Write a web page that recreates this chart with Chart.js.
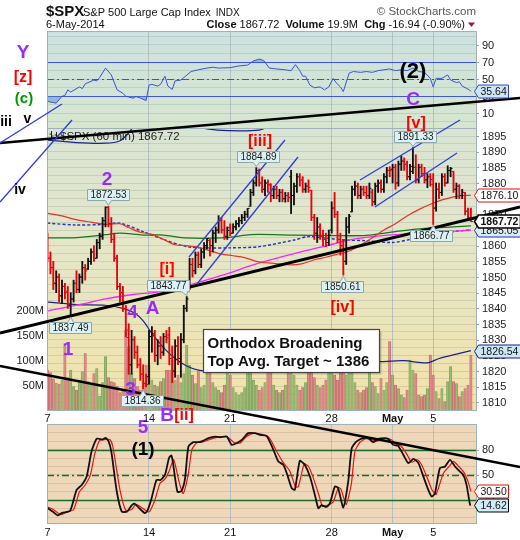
<!DOCTYPE html>
<html>
<head>
<meta charset="utf-8">
<title>$SPX 60 min</title>
<script src="https://cdn.jsdelivr.net/npm/chart.js@4.4.1/dist/chart.umd.min.js"></script>
<style>
html, body { margin: 0; padding: 0; background: #fff; }
canvas { display: block; }
</style>
</head>
<body>
<canvas id="spx" width="520" height="540"></canvas>
<script>
const FONT = 'Arial, "Liberation Sans", Helvetica, sans-serif';

// ---------------- data ----------------
// one slot per hourly bar, 7 bars per session, 7-Apr-2014 .. 6-May-2014
const weekIdx = [0, 35, 63, 98, 119, 133];
const weekLabels = ['7', '14', '21', '28', 'May', '5'];

const opens = [
  1863.9,1856,1853,1848,1850,1844,1847,
  1845.5,1841,1843,1848,1846,1850,1853,
  1852.6,1855,1858,1856,1861,1863,1868,
  1872.3,1867,1862,1856,1847,1845,1840,
  1830.7,1822,1830,1826,1822,1819,1816,
  1818.2,1831,1832,1825,1828,1826,1831,
  1831.5,1824,1820,1828,1824,1830,1840,
  1846,1854,1852,1857,1854,1858,1860,
  1861.7,1860,1864,1865,1868,1865,1863,
  1865.8,1864,1866,1867,1868,1869,1870,
  1872.6,1877,1880,1884,1880,1878,1880,
  1879.3,1876,1878,1876,1877,1875,1876,
  1882,1876,1879,1882,1881,1878,1879,
  1877.7,1869,1864,1866,1863,1862,1861,
  1865,1872,1870,1862,1860,1855,1866,
  1870.8,1878,1879,1876,1878,1877,1876,
  1877.1,1874,1879,1880,1878,1882,1884,
  1884.4,1885,1880,1886,1887,1886,1882,
  1885.3,1885,1881,1885,1883,1881,1882,
  1879.5,1872,1878,1877,1882,1880,1884,
  1883.7,1878,1879,1876,1877,1871,1869
];
const highs = [
  1864.0,1858,1855,1852,1851,1849,1848,
  1847,1845,1849,1852,1851,1855,1854,
  1856,1859,1860,1862,1864,1869,1872.4,
  1872.53,1869,1864,1857,1848,1847,1841,
  1835.1,1833,1831,1828,1824,1822,1819,
  1833,1834.2,1833,1830,1831,1832,1833,
  1834,1828,1830,1831,1832,1841,1843.77,
  1856,1856,1858,1858,1859,1861,1862.3,
  1862,1865,1866,1869.6,1869,1868,1866,
  1867,1867,1868,1869,1870,1871,1871.9,
  1878,1881,1884.89,1884.5,1882,1881,1881,
  1879.8,1879,1879,1878,1878,1877,1877,
  1884.06,1880,1883,1883,1882,1880,1881,
  1877.7,1870,1869,1867,1865,1864,1865,
  1874,1877,1871,1864,1862,1869,1870,
  1879,1880.6,1880,1879,1879,1879,1880,
  1878,1880,1881,1881,1883,1885,1885.2,
  1886,1886,1887,1888.6,1888,1887,1886,
  1891.33,1889,1886,1886,1885,1883,1883,
  1883,1880,1880,1883,1883,1885.5,1885,
  1883.7,1880,1879.5,1878,1877,1872,1872
];
const lows = [
  1855,1851,1846,1845,1842,1841.5,1843,
  1840,1837.49,1842,1845,1845,1848,1849,
  1852.4,1854,1855,1856,1859,1862,1866,
  1866,1861,1855,1846,1842,1839,1830.9,
  1819,1819,1824,1821,1817,1814.36,1815,
  1815.8,1826,1823,1822,1824,1825,1829,
  1822,1816.3,1818,1822,1818,1829,1839,
  1846,1850,1851,1853,1853,1856,1859,
  1856.7,1858,1861,1864,1864,1862,1862,
  1863.2,1864,1865,1866,1867,1868,1869,
  1872.6,1876,1879,1879,1877,1876,1877,
  1874,1875,1875,1874,1874,1873.9,1874,
  1870.24,1873,1877,1879,1877,1877,1877,
  1868,1862,1861,1862,1860,1859.7,1860,
  1864,1869,1861,1857,1850.61,1854,1864,
  1870.8,1876,1875,1875,1876,1875,1875,
  1872.7,1873,1877,1877,1877,1880,1882,
  1880,1878,1879,1884,1884,1881,1881,
  1883,1880,1880,1882,1880,1878.5,1879,
  1866.77,1871,1875,1876,1879,1880,1882,
  1877,1875,1875,1875,1869.8,1868.5,1867.72
];
const closes = [
  1856,1853,1848,1850,1844,1847,1845.0,
  1841,1843,1848,1846,1850,1853,1852,
  1855,1858,1856,1861,1863,1868,1872.2,
  1867,1862,1856,1847,1845,1840,1833.1,
  1822,1830,1826,1822,1819,1816,1815.7,
  1831,1832,1825,1828,1826,1831,1830.6,
  1824,1820,1828,1824,1830,1840,1843,
  1854,1852,1857,1854,1858,1860,1862.3,
  1860,1864,1865,1868,1865,1863,1864.9,
  1864,1866,1867,1868,1869,1870,1871.9,
  1877,1880,1884,1880,1878,1880,1879.6,
  1876,1878,1876,1877,1875,1876,1875.4,
  1876,1879,1882,1881,1878,1879,1878.6,
  1869,1864,1866,1863,1862,1861,1863.4,
  1872,1870,1862,1860,1855,1866,1869.4,
  1878,1879,1876,1878,1877,1876,1878.3,
  1874,1879,1880,1878,1882,1884,1883.95,
  1885,1880,1886,1887,1886,1882,1883.7,
  1885,1881,1885,1883,1881,1882,1881.1,
  1872,1878,1877,1882,1880,1884,1884.66,
  1878,1879,1876,1877,1871,1869,1867.72
];
// volume per bar, millions of shares
const volumes = [
  80,75,62,54,52,60,133,
  65,80,47,40,60,77,113,
  57,53,73,83,28,55,107,
  65,57,55,48,35,40,160,
  127,73,63,47,40,57,90,
  90,60,50,47,57,63,80,
  80,100,60,70,55,73,130,
  90,70,53,77,45,50,95,
  85,55,45,40,35,50,90,
  70,45,35,30,35,45,80,
  90,60,50,40,45,55,100,
  80,50,40,35,40,50,85,
  110,70,50,40,45,55,95,
  90,65,50,45,50,60,110,
  100,70,60,75,85,70,120,
  85,55,40,35,40,45,77,
  55,47,33,63,40,55,137,
  70,50,43,30,25,40,100,
  80,73,30,27,30,43,110,
  70,37,23,43,17,57,87,
  57,53,27,37,43,50,110
];

// price overlays, sampled at bar slots
const redMaIdx = [0,5,10,15,20,25,28,32,36,40,44,48,52,56,60,64,68,72,76,80,84,88,92,96,100,104,108,112,116,120,124,128,132,136,140,143,146];
const redMaVal = [1870.3,1869.5,1868.3,1867.5,1866.8,1867,1865.8,1864.3,1863.6,1862,1860.3,1860,1859.5,1858.4,1857.3,1856.8,1856.2,1855,1854.5,1854.2,1853.9,1854.3,1855.5,1856.3,1857.3,1858.3,1860.2,1862.5,1865,1867,1869.5,1871.5,1873.2,1874.6,1875.6,1876,1876.10];
const greenMaIdx = [0,10,20,25,33,40,47,60,70,73,85,100,110,120,130,140,146];
const greenMaVal = [1862.5,1862.6,1863.5,1864,1863.4,1863.4,1862.5,1862.5,1863.5,1863.6,1863.4,1863.2,1863.3,1864.5,1865.5,1866,1866.3];
const dotMaIdx = [0,10,20,25,33,40,48,55,63,73,85,90,97,103,110,119,125,130,136,141,146];
const dotMaVal = [1867.2,1866.6,1866.8,1867.2,1864.5,1862,1859.7,1859.3,1859.3,1859.7,1861.8,1862.9,1862.3,1861.8,1861.6,1861,1862,1863,1864,1864.6,1865.05];
const magMaIdx = [0,10,20,30,38,49,60,73,85,95,105,112,120,130,140,146];
const magMaVal = [1839.2,1841,1843,1844.5,1845.2,1847.5,1850.5,1854.5,1857.5,1859.7,1862,1862.9,1863.5,1864,1864.6,1865];
const bandLoIdx = [0,10,20,26,30,33,36,40,44,48,52,57,65,80,95,105,115,123,131,135,141,146];
const bandLoVal = [1842,1841.2,1841,1840,1838.5,1836,1832,1827.5,1824,1821.6,1820.3,1820,1820.3,1821,1821.8,1822.5,1823,1823.3,1822.6,1824,1825.4,1826.54];
const bandHiIdx = [0,10,20,25,28,31,40,50,53,55,62,73,77,82,100,120,146];
const bandHiVal = [1893.7,1892.9,1892.7,1893.5,1896,1899.5,1904,1901,1898,1897.3,1896.7,1896.9,1898.5,1902,1906,1908,1915];

// RSI(14)
const rsiIdx = [0,3,5,6,7,8,11,12,13,16,17,18,20,22,24,26,27,29.6,30.5,32,34,35,36,38,39,40.5,41.5,43,44,46,49.5,52,55,57,59,63,66,69,71,73,74.5,76.5,79,82,84,85.5,87,88,89,90.5,92,94,95.5,97,98.5,99.5,101,102,104,105.5,108,110,112,114,116,118,120,122,124,126,128,130,132,133,134,136,138,139,141,142,143,145.5,146];
const rsiVal = [24,22,30,31,37.5,35,41,39,44.5,49,48,52,63,55,37.5,33.6,30,27.8,29.7,28,25,43,44,42,44,53.5,42,38,48,49,59,61,63,64,63,63.5,65.5,66.5,71.4,73.5,72,63,62,61,60,67,60,53.5,53.5,43,40,41,37.5,41,51,46,41,35.5,57,59,58,59,58,60,61,62,60,61,60,63,59,58,51,41,51,51,55,49,46,47,42,37.5,35.64];
const rsiLevels = [70, 50, 30];
const rsiLabels = [10, 30, 50, 70, 90];

// slow stochastic %K / %D
const stoKIdx = [0,2,3.5,5,7.8,10,11.8,13.5,15.2,17,19,20,21,22,23.9,25.6,27.5,29,30,31.5,33.6,34.5,35.9,37.6,39,40.5,41.9,42.7,43.2,44.8,46.2,47.4,48.6,50.3,52,53.7,55.5,57.8,59.5,61.8,63.5,65.2,67,69.2,71.5,73.3,75.6,77.9,79.6,81.3,82.5,84.2,85.3,87,88.7,90.5,92.2,93.4,94.5,96.2,97.4,99.1,100.2,102,103.7,104.9,106.6,108.9,110.6,112.3,114,116.3,117.5,119.2,120.9,122.7,124.4,126.2,127.9,129.6,131.3,132.5,133.6,135.3,137.1,138.8,140.5,142.2,143.4,144.5,145.7,146];
const stoKVal = [10.6,6,2,5,7.4,32,38,48,78,93,92,94,90.4,78,30,6.6,6.6,13.8,16,11,4.6,8,22.4,44,44,50,70,73,66,30,31,45,83.7,88.8,88.8,90.4,93.6,95.5,94.5,95.5,85.7,87.6,91.5,99.5,99.5,97.5,96,79.7,66,62,52,34.3,32.3,66.7,62,48,26.3,10.5,14,12,16.5,36.3,34.5,11.4,42.2,81.7,89.7,93.6,93.6,88.8,92.6,93.6,92.6,85.6,84.5,73.8,64,69,64,48.2,32.3,24.4,28,58,60,67.9,60,54,50,38.2,14.5,14.62];
const stoDIdx = [0,2,4.5,6,9,11,13,14.8,16.3,18,20,21.5,22.5,25,27,29,30.5,33,35,37,38.8,40.5,42,43.5,45.5,46.8,48.5,49.8,51.5,53.5,56,59,62,64.5,66.5,68.5,70.5,74,76.5,79,81,83.5,85.5,86.5,88.5,90,91.5,93.5,94.8,96.5,98.5,100.3,101.2,103,104.8,106,107.8,110,113.5,116,118.5,120.5,122,124,125.5,127.5,129,131,132.6,134,136.5,138.5,140,141.8,143.6,145,146];
const stoDVal = [12,9,3,5,9,30,38,50,75,91,92,92,84,32,8,9,15,10,6,20,40,45,55,68,40,28,50,80,88,89,92,95,95,88,88,95,99,98,94,78,66,55,36,36,63,60,48,27,13,14,18,35,33,15,40,78,89,93,90,93,92,86,84,74,65,68,62,46,32,27,52,60,66,60,53,42,30.5];
const stoLevels = [80, 50, 20];

const volLabels = [50, 100, 150, 200];

// high/low call-outs: bar slot, which extreme, horizontal nudge of the box (px)
const calloutIdx = [21, 8, 33, 48, 72, 102, 126, 133];
const calloutKind = ['high', 'low', 'low', 'high', 'high', 'low', 'high', 'low'];
const calloutShift = [0, -1, -1, -19, 2, -1, 2, -2];

// trend and channel lines: [slot1, price1, slot2, price2, colour, width]
const trendLines = [
  [-16.38, 1892.77, 162.93, 1907.12, '#000', 2.4],
  [-16.38, 1832.14, 162.93, 1872.35, '#000', 3],
  [-16.38, 1821.61, 162.93, 1789.38, '#000', 2.4],
  [48.79, 1856.39, 81.9, 1893.72, '#2b3de0', 1.3],
  [51.55, 1847.78, 86.38, 1888.30, '#2b3de0', 1.3],
  [107.76, 1880.96, 142.24, 1900.11, '#2b3de0', 1.3],
  [112.93, 1872.35, 141.21, 1889.58, '#2b3de0', 1.3],
  [-16.38, 1873.94, 8.45, 1900.1, '#2b3de0', 1.3],
  [-16.38, 1892.77, 5.0, 1905.21, '#2b3de0', 1.3]
];

// wave count labels (slot, price on the price axis)
const waveText  = ['Y','[z]','(c)','iii','v','iv','(2)','C','2','[iii]','[v]','[i]','[iv]','1','4','A','3','B','[ii]','5','(1)'];
const waveIdx   = [-8.45,-8.45,-8.1,-14.31,-6.9,-9.48,126.03,126.03,20.52,73.28,127.07,41.21,101.72,7.07,29.31,36.21,28.62,41.21,47.07,32.93,32.93];
const wavePrice = [1921.48,1913.67,1906.81,1899.31,1900.42,1877.77,1915.42,1906.49,1881.12,1893.09,1898.99,1852.24,1840.28,1826.72,1838.52,1839.8,1813.95,1805.66,1805.66,1801.83,1794.81];
const waveColor = ['#9a2bff','#ff0000','#009a00','#000','#000','#000','#000','#9a2bff','#9a2bff','#ff0000','#ff0000','#ff0000','#ff0000','#9a2bff','#9a2bff','#9a2bff','#9a2bff','#9a2bff','#ff0000','#9a2bff','#000'];
const waveSize  = [19,16,15,14,14,14,22,19,19,16,16,16,16,19,19,19,19,19,16,19,19];

const noteLines = ['Orthodox Broadening', 'Top Avg. Target ~ 1386'];
const noteAnchor = [53.62, 1833.26];   // slot, price of the note's top-left corner

const header = { symbol: '$SPX', name: 'S&P 500 Large Cap Index', exch: 'INDX', date: '6-May-2014', volume: '19.9M', credit: '\u00a9 StockCharts.com' };

// ---------------- layout ----------------
const CW = 520, CH = 540;
const PLOT = { left: 47, right: 476, top: 31, bottom: 524 };
const PANEL = { rsiBottom: 128, mainBottom: 410, stochTop: 424 };
const BAR0 = 47.5, BARSTEP = 2.9;

function rangeFor(v1, y1, v2, y2) {
  const k = (v2 - v1) / (y2 - y1);
  return { min: v1 + (PLOT.bottom - y1) * k, max: v1 + (PLOT.top - y1) * k };
}
const priceRange = rangeFor(1895, 136, 1845, 292.7);
const rsiRange = rangeFor(90, 45, 10, 113.4);
const stoRange = rangeFor(80, 449.6, 20, 500.2);
const volRange = rangeFor(0, 410, 200, 310);

const clipMain = { left: 0, right: 0, top: -(PANEL.rsiBottom - PLOT.top), bottom: -(PLOT.bottom - PANEL.mainBottom) };
const clipRsi = { left: 0, right: 0, top: 0, bottom: -(PLOT.bottom - PANEL.rsiBottom) };
const clipSto = { left: 0, right: 0, top: -(PANEL.stochTop - PLOT.top), bottom: 0 };

const priceTicks = [];
for (let v = 1807.5; v <= 1897.5; v += 2.5) priceTicks.push(v);
const tenTicks = [];
for (let v = 0; v <= 100; v += 10) tenTicks.push(v);
const priceLabel = v => (v % 5 === 0 && v >= 1810 && v <= 1895) ? String(v) : '';

const isUp = closes.map((c, i) => i === 0 ? c >= opens[0] : c >= closes[i - 1]);
const barColors = isUp.map(u => u ? '#111111' : '#e8000b');
const volFill = isUp.map(u => u ? 'rgba(150,185,110,0.85)' : 'rgba(222,135,135,0.85)');
const volEdge = isUp.map(u => u ? '#7f9f5c' : '#c06a6a');

const pts = (idx, val) => idx.map((x, k) => ({ x, y: val[k] }));
const last = a => a[a.length - 1];

function lineSet(idx, val, color, width, axis, clip, order, extra) {
  return Object.assign({
    type: 'line', data: pts(idx, val), yAxisID: axis, borderColor: color, borderWidth: width,
    pointRadius: 0, tension: 0.3, fill: false, clip, order
  }, extra || {});
}

// ---------------- drawing helpers ----------------
function hline(ctx, x1, x2, y, color, width, dash) {
  ctx.save();
  ctx.strokeStyle = color; ctx.lineWidth = width; ctx.setLineDash(dash || []);
  const yy = Math.round(y) + 0.5;
  ctx.beginPath(); ctx.moveTo(x1, yy); ctx.lineTo(x2, yy); ctx.stroke();
  ctx.restore();
}

// value tag on the right edge: small arrow pointing at the panel, text box behind it
function tag(ctx, x, y, text, fill, stroke, lw, bold) {
  ctx.save();
  ctx.font = (bold ? 'bold ' : '') + '10.5px ' + FONT;
  const w = Math.round(ctx.measureText(text).width) + 4;
  const h = 13, tip = x - 2, x0 = x + 2, yy = Math.round(y) + 0.5;
  ctx.beginPath();
  ctx.moveTo(tip + 0.5, yy);
  ctx.lineTo(x0 + 0.5, yy - h / 2);
  ctx.lineTo(x0 + w + 0.5, yy - h / 2);
  ctx.lineTo(x0 + w + 0.5, yy + h / 2);
  ctx.lineTo(x0 + 0.5, yy + h / 2);
  ctx.closePath();
  ctx.fillStyle = fill; ctx.fill();
  ctx.strokeStyle = stroke; ctx.lineWidth = lw; ctx.stroke();
  ctx.fillStyle = '#111'; ctx.textAlign = 'left'; ctx.textBaseline = 'middle';
  ctx.fillText(text, x0 + 2.5, yy + 0.5);
  ctx.restore();
}

function callout(ctx, ax, ay, text, above, shift) {
  ctx.save();
  ctx.font = '10px ' + FONT;
  const w = Math.round(ctx.measureText(text).width) + 6, h = 11;
  const left = Math.round(ax + shift - w / 2) + 0.5;
  const top = Math.round(above ? ay - 6 - h : ay + 6) + 0.5;
  const tipY = above ? ay - 1 : ay + 1;
  const pxm = Math.min(Math.max(ax, left + 5), left + w - 5);
  ctx.beginPath();
  ctx.moveTo(left, top);
  if (!above) { ctx.lineTo(pxm - 3, top); ctx.lineTo(ax, tipY); ctx.lineTo(pxm + 3, top); }
  ctx.lineTo(left + w, top);
  ctx.lineTo(left + w, top + h);
  if (above) { ctx.lineTo(pxm + 3, top + h); ctx.lineTo(ax, tipY); ctx.lineTo(pxm - 3, top + h); }
  ctx.lineTo(left, top + h);
  ctx.closePath();
  ctx.fillStyle = '#dcf1f3'; ctx.fill();
  ctx.strokeStyle = '#8ea6aa'; ctx.lineWidth = 1; ctx.stroke();
  ctx.fillStyle = '#1a1a1a'; ctx.textAlign = 'center'; ctx.textBaseline = 'middle';
  ctx.fillText(text, left + w / 2, top + h / 2 + 0.5);
  ctx.restore();
}

function dateLabels(ctx, xs, y) {
  ctx.save();
  ctx.fillStyle = '#111'; ctx.textAlign = 'center'; ctx.textBaseline = 'top';
  xs.ticks.forEach(t => {
    const k = weekIdx.indexOf(t.value);
    if (k < 0) return;
    ctx.font = (weekLabels[k] === 'May' ? 'bold ' : '') + '11px ' + FONT;
    ctx.fillText(weekLabels[k], xs.getPixelForValue(t.value), y);
  });
  ctx.restore();
}

function rightLabels(ctx, scale, labelOf) {
  ctx.save();
  ctx.font = '11px ' + FONT; ctx.fillStyle = '#222';
  ctx.textAlign = 'left'; ctx.textBaseline = 'middle';
  ctx.strokeStyle = '#9aa8a8'; ctx.lineWidth = 1;
  scale.ticks.forEach(t => {
    const lab = labelOf(t.value);
    const y = scale.getPixelForValue(t.value);
    if (!lab) return;
    const yy = Math.round(y) + 0.5;
    ctx.beginPath(); ctx.moveTo(PLOT.right, yy); ctx.lineTo(PLOT.right + 3, yy); ctx.stroke();
    ctx.fillText(lab, PLOT.right + 6, y + 0.5);
  });
  ctx.restore();
}

const panelsPlugin = {
  id: 'panels',
  beforeDraw(chart) {
    const ctx = chart.ctx;
    ctx.save();
    ctx.fillStyle = '#fff';
    ctx.fillRect(0, 0, chart.width, chart.height);
    const w = PLOT.right - PLOT.left;
    let g = ctx.createLinearGradient(0, PLOT.top, 0, PANEL.rsiBottom);
    g.addColorStop(0, '#cde2df'); g.addColorStop(1, '#d6e6cf');
    ctx.fillStyle = g; ctx.fillRect(PLOT.left, PLOT.top, w, PANEL.rsiBottom - PLOT.top);
    g = ctx.createLinearGradient(0, PANEL.rsiBottom, 0, PANEL.mainBottom);
    g.addColorStop(0, '#d8e4d4'); g.addColorStop(0.45, '#e5e6c6'); g.addColorStop(1, '#f2e2a8');
    ctx.fillStyle = g; ctx.fillRect(PLOT.left, PANEL.rsiBottom, w, PANEL.mainBottom - PANEL.rsiBottom);
    ctx.fillStyle = '#eed8b9';
    ctx.fillRect(PLOT.left, PANEL.stochTop, w, PLOT.bottom - PANEL.stochTop);
    ctx.restore();
  },
  beforeDatasetsDraw(chart) {
    const ctx = chart.ctx;
    ctx.save();
    // white strip between price and stochastic panels
    ctx.fillStyle = '#fff';
    ctx.fillRect(PLOT.left - 1, PANEL.mainBottom, PLOT.right - PLOT.left + 2, PANEL.stochTop - PANEL.mainBottom);
    const yr = chart.scales.yr, ys = chart.scales.ys;
    rsiLevels.forEach(v => hline(ctx, PLOT.left, PLOT.right, yr.getPixelForValue(v), '#3a4ee0', 1.2, v === 50 ? [7, 3, 2, 3] : null));
    stoLevels.forEach(v => hline(ctx, PLOT.left, PLOT.right, ys.getPixelForValue(v), '#1d6b2a', 1.3, v === 50 ? [7, 3, 2, 3] : null));
    ctx.restore();
  },
  afterDatasetsDraw(chart) {
    const ctx = chart.ctx, xs = chart.scales.x, ys = chart.scales.y;
    const X = v => xs.getPixelForValue(v), Y = v => ys.getPixelForValue(v);
    ctx.save();
    // panel frames
    ctx.strokeStyle = '#9fb1b9'; ctx.lineWidth = 1;
    ctx.strokeRect(PLOT.left + 0.5, PLOT.top + 0.5, PLOT.right - PLOT.left, PANEL.rsiBottom - PLOT.top);
    ctx.strokeRect(PLOT.left + 0.5, PANEL.rsiBottom + 0.5, PLOT.right - PLOT.left, PANEL.mainBottom - PANEL.rsiBottom);
    ctx.strokeRect(PLOT.left + 0.5, PANEL.stochTop + 0.5, PLOT.right - PLOT.left, PLOT.bottom - PANEL.stochTop - 1);

    // price legend
    ctx.strokeStyle = '#222'; ctx.lineWidth = 1;
    [51.5, 56.5].forEach((x, k) => {
      ctx.beginPath();
      ctx.moveTo(x, 131 + k); ctx.lineTo(x, 139);
      ctx.moveTo(x - 2, 134 + k); ctx.lineTo(x, 134 + k);
      ctx.moveTo(x, 136); ctx.lineTo(x + 2, 136);
      ctx.stroke();
    });
    ctx.fillStyle = '#222'; ctx.font = '11.5px ' + FONT; ctx.textAlign = 'left'; ctx.textBaseline = 'alphabetic';
    ctx.fillText('$SPX (60 min) ' + last(closes).toFixed(2), 60, 140);

    // trend and channel lines
    trendLines.forEach(([i1, p1, i2, p2, c, w]) => {
      ctx.strokeStyle = c; ctx.lineWidth = w;
      ctx.beginPath(); ctx.moveTo(X(i1), Y(p1)); ctx.lineTo(X(i2), Y(p2)); ctx.stroke();
    });

    // wave labels
    ctx.textAlign = 'center'; ctx.textBaseline = 'middle';
    waveText.forEach((t, k) => {
      ctx.font = 'bold ' + waveSize[k] + 'px ' + FONT;
      ctx.fillStyle = waveColor[k];
      ctx.fillText(t, X(waveIdx[k]), Y(wavePrice[k]));
    });

    // high / low call-outs
    calloutIdx.forEach((i, k) => {
      const hi = calloutKind[k] === 'high';
      const v = hi ? highs[i] : lows[i];
      callout(ctx, X(i), Y(v), v.toFixed(2), hi, calloutShift[k]);
    });

    // target note
    const nx = Math.round(X(noteAnchor[0])) + 0.5, ny = Math.round(Y(noteAnchor[1])) + 0.5;
    ctx.fillStyle = 'rgba(0,0,0,0.18)';
    ctx.fillRect(nx + 2, ny + 2, 176, 43);
    ctx.fillStyle = '#fff'; ctx.fillRect(nx, ny, 176, 43);
    ctx.strokeStyle = '#444'; ctx.lineWidth = 1.2; ctx.strokeRect(nx, ny, 176, 43);
    ctx.fillStyle = '#111'; ctx.font = 'bold 15px ' + FONT; ctx.textAlign = 'left'; ctx.textBaseline = 'alphabetic';
    ctx.fillText(noteLines[0], nx + 4, ny + 18);
    ctx.fillText(noteLines[1], nx + 4, ny + 36);
    ctx.restore();
  },
  afterDraw(chart) {
    const ctx = chart.ctx;
    const xs = chart.scales.x, yp = chart.scales.y, yr = chart.scales.yr, yst = chart.scales.ys, yv = chart.scales.yv;
    const R = PLOT.right;

    // axis labels
    dateLabels(ctx, xs, PANEL.mainBottom + 3);
    dateLabels(ctx, xs, PLOT.bottom + 3);
    rightLabels(ctx, yp, priceLabel);
    rightLabels(ctx, yr, v => rsiLabels.includes(v) ? String(v) : '');
    rightLabels(ctx, yst, v => stoLevels.includes(v) ? String(v) : '');
    ctx.save();
    ctx.font = '11px ' + FONT; ctx.fillStyle = '#222'; ctx.textAlign = 'right'; ctx.textBaseline = 'middle';
    yv.ticks.forEach(t => ctx.fillText(t.value + 'M', PLOT.left - 3, yv.getPixelForValue(t.value) + 0.5));
    ctx.restore();

    // last-value tags
    tag(ctx, R, yr.getPixelForValue(last(rsiVal)), last(rsiVal).toFixed(2), '#cfe6f5', '#3344cc', 1, false);
    tag(ctx, R, yp.getPixelForValue(last(redMaVal)), last(redMaVal).toFixed(2), '#ffffff', '#e01010', 1, false);
    tag(ctx, R, yp.getPixelForValue(last(dotMaVal)), last(dotMaVal).toFixed(2), '#dcecf7', '#1a2fb0', 1, false);
    tag(ctx, R, yp.getPixelForValue(last(closes)), last(closes).toFixed(2), '#ffffff', '#000', 1.6, true);
    tag(ctx, R, yp.getPixelForValue(last(bandLoVal)), last(bandLoVal).toFixed(2), '#cde8f5', '#1a1a80', 1, false);
    tag(ctx, R, yst.getPixelForValue(last(stoDVal)), last(stoDVal).toFixed(2), '#ffffff', '#e01010', 1, false);
    tag(ctx, R, yst.getPixelForValue(last(stoKVal)), last(stoKVal).toFixed(2), '#d3edf8', '#000', 1, false);

    // title block
    ctx.save();
    ctx.textAlign = 'left'; ctx.textBaseline = 'alphabetic'; ctx.fillStyle = '#111';
    ctx.font = 'bold 15px ' + FONT; ctx.fillText(header.symbol, 46, 16);
    ctx.font = '11px ' + FONT; ctx.fillText(header.name, 83, 15.5);
    const nameEnd = 83 + ctx.measureText(header.name).width;
    ctx.font = '10px ' + FONT; ctx.fillText(header.exch, nameEnd + 5, 15.5);
    ctx.font = '11px ' + FONT; ctx.fillText(header.date, 46, 27.5);
    ctx.fillStyle = '#555'; ctx.textAlign = 'right'; ctx.font = '11.5px ' + FONT;
    ctx.fillText(header.credit, 476, 15);

    const close = last(closes), prev = closes[closes.length - 8];
    const chg = close - prev, pct = chg / prev * 100;
    const parts = [
      ['Close', true], [' ' + close.toFixed(2) + '  ', false],
      ['Volume', true], [' ' + header.volume + '  ', false],
      ['Chg', true], [' ' + chg.toFixed(2) + ' (' + pct.toFixed(2) + '%)', false]
    ];
    let total = 0;
    parts.forEach(([t, b]) => { ctx.font = (b ? 'bold ' : '') + '11px ' + FONT; total += ctx.measureText(t).width; });
    let x = 465 - total;
    ctx.textAlign = 'left'; ctx.fillStyle = '#111';
    parts.forEach(([t, b]) => { ctx.font = (b ? 'bold ' : '') + '11px ' + FONT; ctx.fillText(t, x, 27.5); x += ctx.measureText(t).width; });
    ctx.fillStyle = '#a3143a';
    ctx.beginPath(); ctx.moveTo(468, 22.5); ctx.lineTo(475, 22.5); ctx.lineTo(471.5, 27); ctx.closePath(); ctx.fill();
    ctx.restore();
  }
};

Chart.defaults.font.family = FONT;

// axes keep their grids; their labels are painted by the plugin above
const quietTicks = { display: false };
new Chart(document.getElementById('spx'), {
  data: {
    datasets: [
      // price bars (high-low ranges) and open/close ticks
      { type: 'bar', data: highs.map((h, i) => ({ x: i, y: [lows[i], h] })), yAxisID: 'y',
        backgroundColor: barColors, borderWidth: 0, barThickness: 1.2, grouped: false, order: 3, clip: clipMain },
      { type: 'line', data: opens.map((o, i) => ({ x: i, y: o })), yAxisID: 'y', showLine: false,
        pointStyle: 'dash', pointRadius: 2, pointRotation: 180, pointBorderWidth: 1,
        pointBorderColor: barColors, pointBackgroundColor: barColors, order: 2, clip: clipMain },
      { type: 'line', data: closes.map((c, i) => ({ x: i, y: c })), yAxisID: 'y', showLine: false,
        pointStyle: 'dash', pointRadius: 2, pointRotation: 0, pointBorderWidth: 1,
        pointBorderColor: barColors, pointBackgroundColor: barColors, order: 2, clip: clipMain },
      // volume
      { type: 'bar', data: volumes.map((v, i) => ({ x: i, y: v })), yAxisID: 'yv',
        backgroundColor: volFill, borderColor: volEdge, borderWidth: 0.6, barThickness: 2.4,
        grouped: false, order: 12, clip: clipMain },
      // overlays
      lineSet(bandHiIdx, bandHiVal, '#1a2385', 1.2, 'y', clipMain, 9),
      lineSet(bandLoIdx, bandLoVal, '#1a2385', 1.2, 'y', clipMain, 9),
      lineSet(magMaIdx, magMaVal, '#ff20ff', 1.3, 'y', clipMain, 8),
      lineSet(greenMaIdx, greenMaVal, '#17771a', 1.3, 'y', clipMain, 8),
      lineSet(dotMaIdx, dotMaVal, '#2233bb', 1.4, 'y', clipMain, 8, { borderDash: [3, 2] }),
      lineSet(redMaIdx, redMaVal, '#e8322a', 1.2, 'y', clipMain, 7),
      // RSI with shading beyond 70 / 30
      lineSet(rsiIdx, rsiVal, '#3b52d8', 1, 'yr', clipRsi, 5,
        { tension: 0, fill: { target: { value: 70 }, above: 'rgba(105,155,205,0.6)', below: 'rgba(0,0,0,0)' } }),
      lineSet(rsiIdx, rsiVal, 'rgba(0,0,0,0)', 0, 'yr', clipRsi, 6,
        { tension: 0, fill: { target: { value: 30 }, above: 'rgba(0,0,0,0)', below: 'rgba(105,155,205,0.6)' } }),
      // stochastics
      lineSet(stoDIdx, stoDVal, '#ee1111', 1.2, 'ys', clipSto, 5, { tension: 0.2 }),
      lineSet(stoKIdx, stoKVal, '#111111', 1.8, 'ys', clipSto, 4, { tension: 0.2 })
    ]
  },
  plugins: [panelsPlugin],
  options: {
    responsive: false,
    devicePixelRatio: 1,
    animation: false,
    events: [],
    layout: { padding: { top: PLOT.top, left: PLOT.left, right: CW - PLOT.right, bottom: CH - PLOT.bottom } },
    plugins: { legend: { display: false }, tooltip: { enabled: false } },
    scales: {
      x: {
        type: 'linear', position: 'bottom', offset: false,
        min: (PLOT.left - BAR0) / BARSTEP, max: (PLOT.right - BAR0) / BARSTEP,
        afterBuildTicks: s => { s.ticks = weekIdx.map(v => ({ value: v })); },
        ticks: quietTicks,
        grid: { color: '#b6c2c2', lineWidth: 1, drawTicks: false, offset: false },
        border: { display: false }
      },
      yv: {
        type: 'linear', position: 'left', min: volRange.min, max: volRange.max,
        afterBuildTicks: s => { s.ticks = volLabels.map(v => ({ value: v })); },
        ticks: quietTicks,
        grid: { display: false, drawTicks: false },
        border: { display: false }
      },
      yr: {
        type: 'linear', position: 'right', min: rsiRange.min, max: rsiRange.max,
        afterBuildTicks: s => { s.ticks = tenTicks.map(v => ({ value: v })); },
        ticks: quietTicks,
        grid: { color: 'rgba(110,135,140,0.22)', drawTicks: false },
        border: { display: false }
      },
      ys: {
        type: 'linear', position: 'right', min: stoRange.min, max: stoRange.max,
        afterBuildTicks: s => { s.ticks = tenTicks.map(v => ({ value: v })); },
        ticks: quietTicks,
        grid: { color: 'rgba(150,120,90,0.22)', drawTicks: false },
        border: { display: false }
      },
      y: {
        type: 'linear', position: 'right', min: priceRange.min, max: priceRange.max,
        afterBuildTicks: s => { s.ticks = priceTicks.map(v => ({ value: v })); },
        ticks: quietTicks,
        grid: { color: 'rgba(110,125,125,0.2)', drawTicks: false },
        border: { display: false }
      }
    }
  }
});
</script>
</body>
</html>
